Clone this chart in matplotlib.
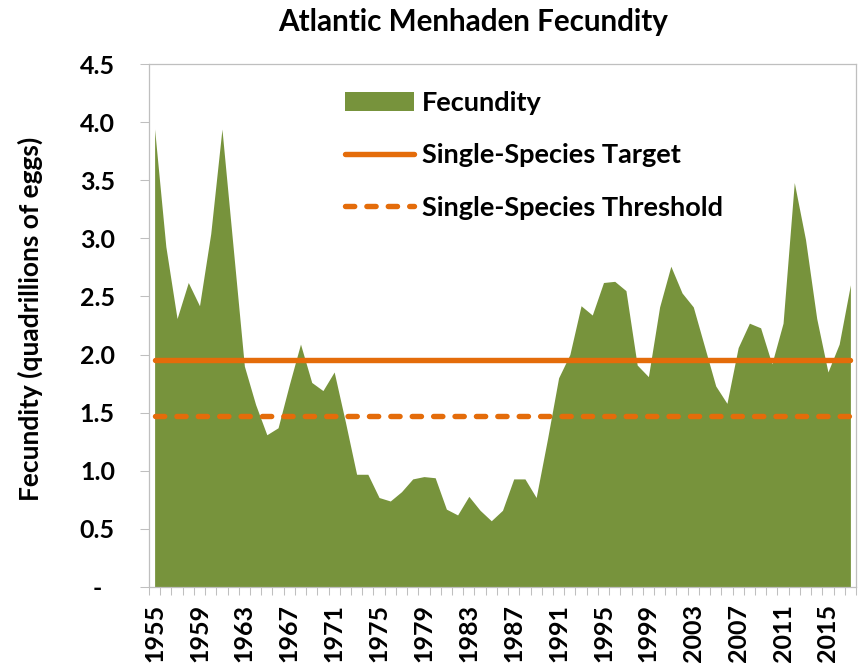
import numpy as np
import matplotlib
matplotlib.use("Agg")
import matplotlib.pyplot as plt
from matplotlib.ticker import FixedLocator, FuncFormatter
from matplotlib.patches import Patch
from matplotlib.lines import Line2D

plt.rcParams['font.family'] = ['Lato', 'DejaVu Sans']
plt.rcParams['font.weight'] = 'bold'

# fecundity, quadrillions of eggs, 1955-2017
years = np.arange(1955, 2018)
fecundity = [
    3.94, 2.93, 2.31, 2.62, 2.42, 3.04, 3.94, 2.92, 1.90, 1.57,   # 1955-64
    1.31, 1.37, 1.74, 2.09, 1.76, 1.69, 1.85, 1.42, 0.97, 0.97,   # 1965-74
    0.77, 0.74, 0.82, 0.93, 0.95, 0.94, 0.67, 0.62, 0.78, 0.66,   # 1975-84
    0.57, 0.66, 0.93, 0.93, 0.77, 1.27, 1.80, 2.00, 2.42, 2.34,   # 1985-94
    2.62, 2.63, 2.55, 1.91, 1.81, 2.41, 2.76, 2.53, 2.41, 2.07,   # 1995-2004
    1.73, 1.58, 2.06, 2.27, 2.23, 1.92, 2.27, 3.48, 2.99, 2.31,   # 2005-14
    1.85, 2.09, 2.60,                                             # 2015-17
]
target = 1.95
threshold = 1.47

green = '#77933C'
orange = '#E46C0A'
grey = '#BFBFBF'
lw = 3.9
dash = (1.7, 2.25)

fig = plt.figure(figsize=(8.58, 6.64), dpi=100)
ax = fig.add_axes([149 / 858, 77 / 664, 707 / 858, 523 / 664])

ax.fill_between(years, fecundity, 0, color=green, linewidth=0, zorder=1)
ax.plot(years, [target] * len(years), color=orange, lw=lw,
        solid_capstyle='round', zorder=3)
ax.plot(years, [threshold] * len(years), color=orange, lw=lw,
        dashes=dash, dash_capstyle='round', zorder=3)

ax.set_xlim(years[0] - 0.5, years[-1] + 0.5)
ax.set_ylim(0, 4.5)

# x axis: tick marks between categories, labels every 4 years
ax.xaxis.set_major_locator(FixedLocator(np.arange(years[0] - 0.5, years[-1] + 1)))
ax.xaxis.set_major_formatter(FuncFormatter(lambda v, p: ''))
ax.xaxis.set_minor_locator(FixedLocator(years[::4]))
ax.xaxis.set_minor_formatter(FuncFormatter(lambda v, p: '%d' % v))
ax.tick_params(axis='x', which='major', length=6, width=0.75, color=grey, direction='out')
ax.tick_params(axis='x', which='minor', length=0, pad=12, labelsize=18,
               labelrotation=90)

ax.set_yticks(np.arange(0, 4.51, 0.5))
ax.yaxis.set_major_formatter(FuncFormatter(lambda v, p: '-  ' if v == 0 else '%.1f' % v))
ax.tick_params(axis='y', length=6.5, width=0.75, color=grey, pad=18, labelsize=18)

for s in ax.spines.values():
    s.set_color(grey)
    s.set_linewidth(0.9)

fig.text(30 / 858, 1 - 319 / 664, 'Fecundity (quadrillions of eggs)', fontsize=19,
         rotation=90, ha='center', va='center')

fig.text(473 / 858, 1 - 22 / 664, 'Atlantic Menhaden Fecundity', fontsize=21.3,
         ha='center', va='center')

handles = [
    Patch(facecolor=green, edgecolor='none', label='Fecundity'),
    Line2D([], [], color=orange, lw=lw, solid_capstyle='round',
           label='Single-Species Target'),
    Line2D([], [], color=orange, lw=lw, dashes=dash, dash_capstyle='round',
           label='Single-Species Threshold'),
]
ax.legend(handles=handles, loc='upper left', bbox_to_anchor=(345 / 858, 1 - 91 / 664),
          bbox_transform=fig.transFigure, frameon=False, fontsize=19.5,
          handlelength=2.55, handletextpad=0.28, labelspacing=1.05,
          borderpad=0, borderaxespad=0)

fig.savefig('out.png', dpi=100)
